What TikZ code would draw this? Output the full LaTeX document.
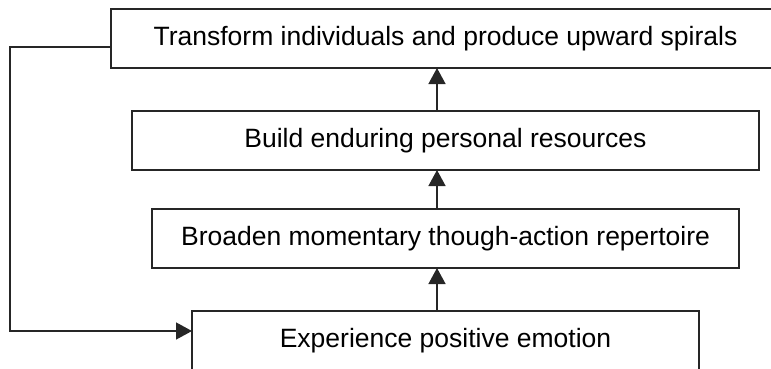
\documentclass[tikz,border=0pt]{standalone}
\usepackage{fontspec}
\setmainfont{Liberation Sans}
\usetikzlibrary{arrows.meta}
\begin{document}
\begin{tikzpicture}[x=1pt,y={(0,-1pt)},
  stage/.style={draw=black!85, line width=1.4pt, fill=white, inner sep=0pt, outer sep=0pt,
    minimum height=59pt, font=\fontsize{26.5}{30}\selectfont},
  flow/.style={draw=black!85, line width=1.4pt, -{Triangle[length=16pt,width=17pt]}}]
  \useasboundingbox (0,0) rectangle (771,369);
  \clip (0,0) rectangle (771,369);
  % the four stages, bottom to top
  \node[stage, minimum width=669pt] (t) at (445.5,38.5) {Transform individuals and produce upward spirals};
  \node[stage, minimum width=627pt] (b) at (445.5,140.5) {Build enduring personal resources};
  \node[stage, minimum width=587pt] (r) at (445.5,238.5) {Broaden momentary though-action repertoire};
  \node[stage, minimum width=507pt] (e) at (445.5,340.5) {Experience positive emotion};
  % upward steps
  \draw[flow] ([xshift=-8.5pt]e.north) -- ([xshift=-8.5pt]r.south);
  \draw[flow] ([xshift=-8.5pt]r.north) -- ([xshift=-8.5pt]b.south);
  \draw[flow] ([xshift=-8.5pt]b.north) -- ([xshift=-8.5pt]t.south);
  % feedback loop back to the start
  \coordinate (loop) at (10,47);
  \draw[flow] ([yshift=-8.5pt]t.west) -- (loop) |- ([yshift=9.5pt]e.west);
\end{tikzpicture}
\end{document}
